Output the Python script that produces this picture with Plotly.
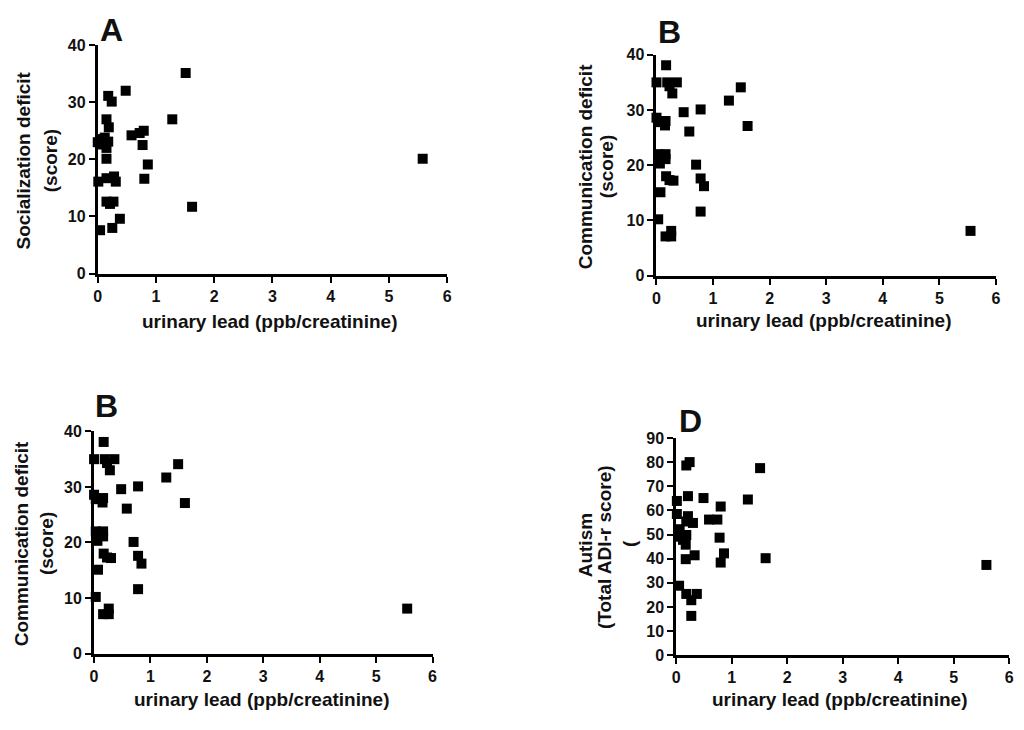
import plotly.graph_objs as go

# panel A: socialization deficit vs urinary lead
lead_a = [1.51, 0.48, 0.18, 0.24, 1.28, 0.15, 0.19, 0.58, 0.72, 0.79, 0.77, 0.86, 0.80, 1.62, 5.58,
          0.04, 0.07, 0.00, 0.12, 0.18, 0.15, 0.15, 0.01, 0.15, 0.28, 0.31, 0.15, 0.21, 0.27, 0.38,
          0.25, 0.04, 0.07]
social = [35.1, 32.0, 31.1, 30.1, 27.0, 27.0, 25.6, 24.2, 24.6, 25.0, 22.5, 19.1, 16.6, 11.7, 20.1,
          23.5, 22.6, 23.0, 23.8, 23.1, 22.0, 20.1, 16.1, 16.7, 17.0, 16.1, 12.6, 12.2, 12.6, 9.6,
          8.0, 7.6, 23.5]

# panel B: communication deficit vs urinary lead
lead_b = [0.17, 0.00, 0.19, 0.23, 0.36, 0.28, 1.49, 1.28, 0.78, 0.48, 0.00, 0.03, 0.16, 0.15,
          1.61, 0.58, 0.70, 0.78, 0.84, 0.78, 5.55, 0.03, 0.06, 0.16, 0.16, 0.17, 0.23, 0.30,
          0.07, 0.03, 0.16, 0.26, 0.26]
commun = [38.1, 35.0, 35.0, 34.3, 35.0, 33.0, 34.1, 31.7, 30.1, 29.6, 28.6, 27.8, 28.0, 27.2,
          27.1, 26.1, 20.1, 17.6, 16.2, 11.6, 8.1, 22.0, 20.3, 22.0, 21.1, 18.0, 17.3, 17.2,
          15.1, 10.2, 7.1, 8.1, 7.1]

# panel D: total ADI-r score vs urinary lead
lead_d = [0.24, 0.18, 1.51, 1.29, 0.49, 0.21, 0.01, 0.80, 0.01, 0.21, 0.59, 0.74, 0.18, 0.30,
          0.06, 0.03, 0.18, 0.12, 0.17, 0.78, 0.86, 0.80, 0.33, 0.17, 1.61, 5.59, 0.05, 0.18,
          0.37, 0.27, 0.27]
autism = [80.0, 78.6, 77.5, 64.5, 65.1, 65.9, 63.9, 61.6, 58.5, 57.6, 56.2, 56.2, 55.4, 54.8,
          52.2, 49.1, 49.8, 47.8, 45.8, 48.7, 42.2, 38.4, 41.4, 39.8, 40.2, 37.4, 28.8, 25.4,
          25.4, 22.8, 16.3]

x_ticks = [0, 1, 2, 3, 4, 5, 6]
y_ticks_40 = [0, 10, 20, 30, 40]
y_ticks_90 = [0, 10, 20, 30, 40, 50, 60, 70, 80, 90]

W, H = 1024, 730
PAGE_MARGIN = 8  # default body margin of the html page
LW = 3
FONT = "Liberation Sans, Arial, sans-serif"
INK = "#111"


def px(x):
    return (x - PAGE_MARGIN) / W


def py(y):
    return 1 - (y - PAGE_MARGIN) / H


def bold(vals):
    return ["<b>%d</b>" % v for v in vals]


# (x data, y data, x pixel span, y pixel span, y ticks)
panels = [
    (lead_a, social, (93, 447), (37.7, 273.3), y_ticks_40),
    (lead_b, commun, (656.7, 1000.7), (47.7, 275.3), y_ticks_40),
    (lead_b, commun, (89.3, 432.3), (433.3, 662.3), y_ticks_40),
    (lead_d, autism, (676.7, 1014), (440, 664), y_ticks_90),
]

fig = go.Figure()
layout = {}
for i, (xs, ys, xspan, yspan, yt) in enumerate(panels):
    n = "" if i == 0 else str(i + 1)
    fig.add_trace(go.Scatter(
        x=xs, y=ys, mode="markers", xaxis="x" + n, yaxis="y" + n,
        marker=dict(symbol="square", size=10, color="black"),
        cliponaxis=False, showlegend=False,
    ))
    axis_common = dict(
        showline=True, linecolor="black", linewidth=LW, ticks="outside", ticklen=6,
        tickwidth=2, tickcolor="black", showgrid=False, zeroline=False,
        tickfont=dict(family=FONT, size=16, color=INK, weight="bold"),
    )
    # axis lines sit half a line width outside the domain
    layout["xaxis" + n] = dict(domain=[px(xspan[0] + LW / 2), px(xspan[1])], range=[x_ticks[0], x_ticks[-1]],
                               tickvals=x_ticks, ticktext=bold(x_ticks), anchor="y" + n, **axis_common)
    layout["yaxis" + n] = dict(domain=[py(yspan[1] - LW / 2), py(yspan[0])], range=[yt[0], yt[-1]],
                               tickvals=yt, ticktext=bold(yt), anchor="x" + n, **axis_common)

fig.update_layout(**layout)

# panel letters and axis titles
labels = [
    ("A", 108, 22, 32, 0),
    ("B", 671, 24, 32, 0),
    ("B", 103, 407, 32, 0),
    ("D", 693, 423, 32, 0),
    ("urinary lead (ppb/creatinine)", 268, 321, 19, 0),
    ("urinary lead (ppb/creatinine)", 827, 320, 19, 0),
    ("urinary lead (ppb/creatinine)", 260, 708, 19, 0),
    ("urinary lead (ppb/creatinine)", 843, 708, 19, 0),
    ("Socialization deficit", 20, 156, 19, -90),
    ("(score)", 47, 156, 19, -90),
    ("Communication deficit", 587, 162, 19, -90),
    ("(score)", 608, 162, 19, -90),
    ("Communication deficit", 18, 548, 19, -90),
    ("(score)", 43, 548, 19, -90),
    ("Autism", 586, 550, 19, -90),
    ("(Total ADI-r score)", 606, 552, 19, -90),
    ("(", 631, 548, 19, -90),
]
for text, x, y, size, angle in labels:
    fig.add_annotation(
        text="<b>" + text + "</b>", x=px(x), y=py(y), xref="paper", yref="paper", showarrow=False,
        xanchor="center", yanchor="middle", textangle=angle,
        font=dict(family=FONT, size=size, color=INK),
    )

fig.update_layout(
    width=W, height=H, margin=dict(l=0, r=0, t=0, b=0),
    paper_bgcolor="white", plot_bgcolor="white",
)

fig.write_html("out.html")
